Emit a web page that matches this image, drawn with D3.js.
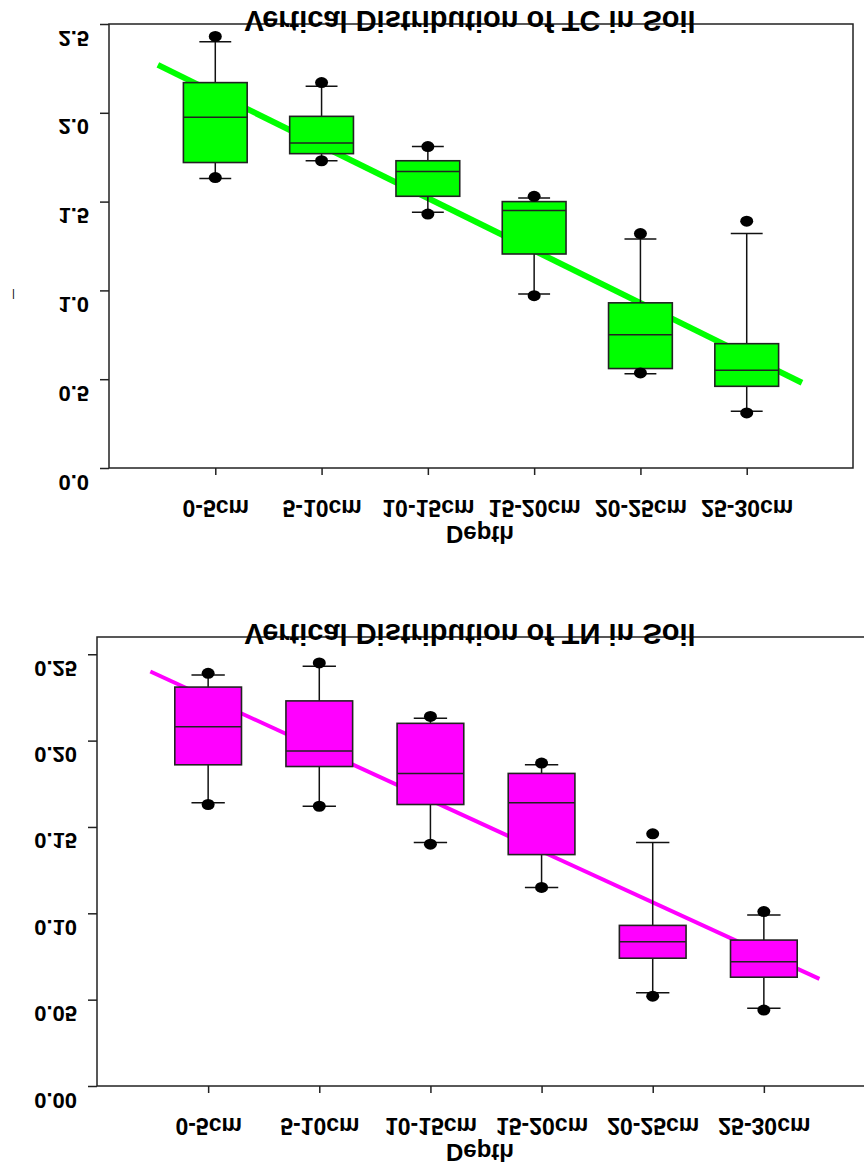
<!DOCTYPE html>
<html>
<head>
<meta charset="utf-8">
<script src="https://cdn.jsdelivr.net/npm/d3@7"></script>
<style>
    body { margin: 0; background: #fff; }
    text { font-family: "Liberation Sans", Arial, sans-serif; font-weight: bold; fill: #000; }
    .axis path, .axis line { stroke: #222; stroke-width: 1.5; }
</style>
</head>
<body>
<svg id="chart" width="864" height="1166"></svg>
<script>
// categories
var depths = ["0-5cm", "5-10cm", "10-15cm", "15-20cm", "20-25cm", "25-30cm"];

// TC (top chart)
var tcDotHigh = [2.43, 2.17, 1.81, 1.53, 1.32, 1.39];
var tcWhiskHigh = [2.40, 2.15, 1.81, 1.52, 1.29, 1.32];
var tcQ3 = [2.17, 1.98, 1.73, 1.50, 0.93, 0.70];
var tcMed = [1.975, 1.83, 1.67, 1.45, 0.75, 0.55];
var tcQ1 = [1.72, 1.77, 1.53, 1.205, 0.56, 0.46];
var tcWhiskLow = [1.63, 1.73, 1.44, 0.98, 0.53, 0.32];
var tcDotLow = [1.635, 1.73, 1.43, 0.97, 0.535, 0.31];
var tcFitX = [0.46, 6.52];
var tcFitY = [2.27, 0.48];
var tcTicks = [0, 0.5, 1.0, 1.5, 2.0, 2.5];

// TN (bottom chart)
var tnDotHigh = [0.239, 0.245, 0.214, 0.187, 0.146, 0.101];
var tnWhiskHigh = [0.238, 0.243, 0.213, 0.186, 0.141, 0.099];
var tnQ3 = [0.231, 0.223, 0.210, 0.181, 0.093, 0.0845];
var tnMed = [0.208, 0.194, 0.181, 0.164, 0.0835, 0.072];
var tnQ1 = [0.186, 0.185, 0.163, 0.134, 0.074, 0.063];
var tnWhiskLow = [0.164, 0.162, 0.141, 0.115, 0.054, 0.045];
var tnDotLow = [0.163, 0.162, 0.140, 0.115, 0.052, 0.044];
var tnFitX = [0.48, 6.50];
var tnFitY = [0.240, 0.062];
var tnTicks = [0, 0.05, 0.10, 0.15, 0.20, 0.25];

var svg = d3.select("#chart");

// flipped text, like in the picture
function flip(sel, dx, dy) {
    sel.attr("transform", "translate(" + dx + "," + dy + ") scale(1,-1)");
}

function drawChart(c) {
    var x = d3.scaleLinear().domain([0, 7]).range([c.left, c.right]);
    var y = d3.scaleLinear().domain([0, c.yMax]).range([c.bottom, c.top]);
    var step = x(1) - x(0);
    var bw = step * 0.6, cw = step * 0.15;

    var g = svg.append("g");

    // frame
    g.append("rect")
        .attr("x", c.left).attr("y", c.top)
        .attr("width", c.right - c.left).attr("height", c.bottom - c.top)
        .attr("fill", "none").attr("stroke", "#222").attr("stroke-width", 1.5);

    // fit line (under boxes)
    g.append("line")
        .attr("x1", x(c.fitX[0])).attr("y1", y(c.fitY[0]))
        .attr("x2", x(c.fitX[1])).attr("y2", y(c.fitY[1]))
        .attr("stroke", c.color).attr("stroke-width", c.lineW);

    var idx = d3.range(depths.length);
    var bx = g.selectAll(".bx").data(idx).enter().append("g").attr("class", "bx");

    bx.append("line")
        .attr("x1", function(i) { return x(i + 1); })
        .attr("x2", function(i) { return x(i + 1); })
        .attr("y1", function(i) { return y(c.whiskHigh[i]); })
        .attr("y2", function(i) { return y(c.whiskLow[i]); })
        .attr("stroke", "#111").attr("stroke-width", 1.5);

    ["whiskHigh", "whiskLow"].forEach(function(k) {
        bx.append("line")
            .attr("x1", function(i) { return x(i + 1) - cw; })
            .attr("x2", function(i) { return x(i + 1) + cw; })
            .attr("y1", function(i) { return y(c[k][i]); })
            .attr("y2", function(i) { return y(c[k][i]); })
            .attr("stroke", "#111").attr("stroke-width", 1.5);
    });

    bx.append("rect")
        .attr("x", function(i) { return x(i + 1) - bw / 2; })
        .attr("width", bw)
        .attr("y", function(i) { return y(c.q3[i]); })
        .attr("height", function(i) { return y(c.q1[i]) - y(c.q3[i]); })
        .attr("fill", c.color).attr("stroke", "#222").attr("stroke-width", 1.6);

    bx.append("line")
        .attr("x1", function(i) { return x(i + 1) - bw / 2; })
        .attr("x2", function(i) { return x(i + 1) + bw / 2; })
        .attr("y1", function(i) { return y(c.med[i]); })
        .attr("y2", function(i) { return y(c.med[i]); })
        .attr("stroke", "#222").attr("stroke-width", 1.5);

    ["dotHigh", "dotLow"].forEach(function(k) {
        bx.append("ellipse")
            .attr("cx", function(i) { return x(i + 1); })
            .attr("cy", function(i) { return y(c[k][i]); })
            .attr("rx", 6.5).attr("ry", 5.5)
            .attr("fill", "#000");
    });

    // y axis
    var ya = g.append("g").attr("class", "axis")
        .attr("transform", "translate(" + c.left + ",0)")
        .call(d3.axisLeft(y).tickValues(c.ticks).tickSize(9).tickSizeOuter(0)
            .tickFormat(c.fmt));
    ya.select(".domain").remove();
    ya.selectAll("text")
        .attr("x", null).attr("dy", null)
        .attr("text-anchor", "end")
        .style("font-size", "22px")
        .each(function() { flip(d3.select(this), -20, 6); });

    // x axis
    var xa = g.append("g").attr("class", "axis")
        .attr("transform", "translate(0," + c.bottom + ")")
        .call(d3.axisBottom(x).tickValues(d3.range(1, 7)).tickSize(7).tickSizeOuter(0)
            .tickFormat(function(v) { return depths[v - 1]; }));
    xa.select(".domain").remove();
    xa.selectAll("text")
        .attr("y", null).attr("dy", null)
        .attr("text-anchor", "middle")
        .style("font-size", "23px")
        .each(function() { flip(d3.select(this), 0, 32); });

    // axis title
    g.append("text")
        .attr("text-anchor", "middle")
        .style("font-size", "24px")
        .text("Depth")
        .call(flip, 480, c.bottom + 58);

    // chart title
    g.append("text")
        .attr("text-anchor", "middle")
        .style("font-size", "29px")
        .text(c.title)
        .call(flip, 470, c.top - 13);
}

drawChart({
    title: "Vertical Distribution of TC in Soil",
    left: 109, right: 853, top: 24, bottom: 468, yMax: 2.5,
    ticks: tcTicks, fmt: d3.format(".1f"),
    color: "#00ff00", lineW: 6,
    dotHigh: tcDotHigh, whiskHigh: tcWhiskHigh, q3: tcQ3, med: tcMed,
    q1: tcQ1, whiskLow: tcWhiskLow, dotLow: tcDotLow,
    fitX: tcFitX, fitY: tcFitY
});

drawChart({
    title: "Vertical Distribution of TN in Soil",
    left: 97, right: 875, top: 637, bottom: 1086, yMax: 0.26,
    ticks: tnTicks, fmt: d3.format(".2f"),
    color: "#ff00ff", lineW: 4,
    dotHigh: tnDotHigh, whiskHigh: tnWhiskHigh, q3: tnQ3, med: tnMed,
    q1: tnQ1, whiskLow: tnWhiskLow, dotLow: tnDotLow,
    fitX: tnFitX, fitY: tnFitY
});

// leftover y label mark on the top chart
svg.append("text")
    .style("font-size", "11px").style("font-weight", "normal")
    .text("|")
    .call(flip, 12, 291);
</script>
</body>
</html>
